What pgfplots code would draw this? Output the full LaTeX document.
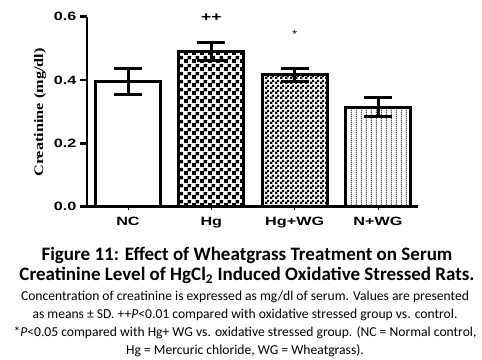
\documentclass[border=0pt]{standalone}
\usepackage{fontspec}
\setmainfont{Carlito}
\newfontfamily\ticksf[FakeStretch=1.35]{Liberation Sans}
\newfontfamily\labsf[FakeStretch=1.25]{Liberation Serif}
\usepackage{pgfplots}
\pgfplotsset{compat=1.18}
\usetikzlibrary{patterns.meta}

\pgfdeclarepattern{name=bigcheck, type=uncolored,
  bottom left={\pgfpointorigin}, top right={\pgfpoint{8pt}{8pt}},
  tile size={\pgfpoint{8pt}{8pt}},
  code={\pgfpathrectangle{\pgfpointorigin}{\pgfpoint{4.4pt}{4.4pt}}%
        \pgfpathrectangle{\pgfpoint{4pt}{4pt}}{\pgfpoint{4pt}{4pt}}%
        \pgfusepath{fill}}}
\pgfdeclarepattern{name=smallcheck, type=uncolored,
  bottom left={\pgfpointorigin}, top right={\pgfpoint{5pt}{5pt}},
  tile size={\pgfpoint{5pt}{5pt}},
  code={\pgfpathrectangle{\pgfpointorigin}{\pgfpoint{2.8pt}{2.8pt}}%
        \pgfpathrectangle{\pgfpoint{2.5pt}{2.5pt}}{\pgfpoint{2.5pt}{2.5pt}}%
        \pgfusepath{fill}}}
\pgfdeclarepattern{name=vlines, type=uncolored,
  bottom left={\pgfpointorigin}, top right={\pgfpoint{5.3pt}{2pt}},
  tile size={\pgfpoint{5.3pt}{2pt}},
  code={\pgfpathrectangle{\pgfpoint{2pt}{0pt}}{\pgfpoint{1.1pt}{2pt}}%
        \pgfusepath{fill}}}

\pgfplotsset{
  mybar/.style={
    draw=black, line width=3pt, bar shift=0pt,
    error bars/y dir=both, error bars/y explicit,
    error bars/error bar style={line width=3pt, black},
    error bars/error mark options={rotate=90, mark size=14pt, line width=3pt, black}},
}

\begin{document}
\begin{tikzpicture}
\path[use as bounding box] (0,0) rectangle (482pt,-359pt);
\begin{axis}[
  at={(87pt,-206.7pt)}, anchor=south west,
  scale only axis, width=331pt, height=190pt,
  xmin=-0.492, xmax=3.48, ymin=0, ymax=0.6,
  axis x line=bottom, axis y line=left,
  axis line style={line width=2.5pt, -},
  clip=false,
  ybar, bar width=0.78,
  xtick={0,1,2,3}, xticklabels={NC,Hg,Hg+WG,N+WG},
  ytick={0,0.2,0.4,0.6},
  tick align=outside,
  major tick length=7pt,
  ytick style={line width=2.5pt, black},
  xtick style={line width=0.8pt, black, /pgfplots/major tick length=3pt},
  tick label style={font=\ticksf\bfseries\fontsize{12}{12}\selectfont},
  /pgf/number format/assume math mode=true,
  yticklabel style={/pgf/number format/.cd, fixed, fixed zerofill, precision=1},
]
\addplot[mybar, fill=white] coordinates {(0,0.395) +- (0,0.0415)};
\addplot[mybar, pattern={bigcheck}, pattern color=black] coordinates {(1,0.489) +- (0,0.028)};
\addplot[mybar, pattern={smallcheck}, pattern color=black] coordinates {(2,0.416) +- (0,0.020)};
\addplot[mybar, pattern={vlines}, pattern color=black] coordinates {(3,0.314) +- (0,0.0295)};
\node[font=\ticksf\bfseries\fontsize{13}{13}\selectfont] at (axis cs:1,0.597) {++};
\node[font=\ticksf\fontsize{10}{10}\selectfont] at (axis cs:2,0.546) {*};
\end{axis}
\node[rotate=90, font=\labsf\bfseries\fontsize{13}{13}\selectfont] at (40pt,-112.5pt) {Creatinine (mg/dl)};
\node[align=center, font=\bfseries\fontsize{19}{20.5}\selectfont] at (247pt,-265.5pt)
  {Figure 11: Effect of Wheatgrass Treatment on Serum\\
   Creatinine Level of HgCl\textsubscript{2} Induced Oxidative Stressed Rats.};
\node[align=center, font=\fontsize{13.6}{18}\selectfont] at (245pt,-324pt)
  {Concentration of creatinine is expressed as mg/dl of serum. Values are presented\\
   as means \textpm{} SD. ++\textit{P}<0.01 compared with oxidative stressed group vs. control.\\
   *\textit{P}<0.05 compared with Hg+ WG vs. oxidative stressed group. (NC = Normal control,\\
   Hg = Mercuric chloride, WG = Wheatgrass).};
\end{tikzpicture}
\end{document}
